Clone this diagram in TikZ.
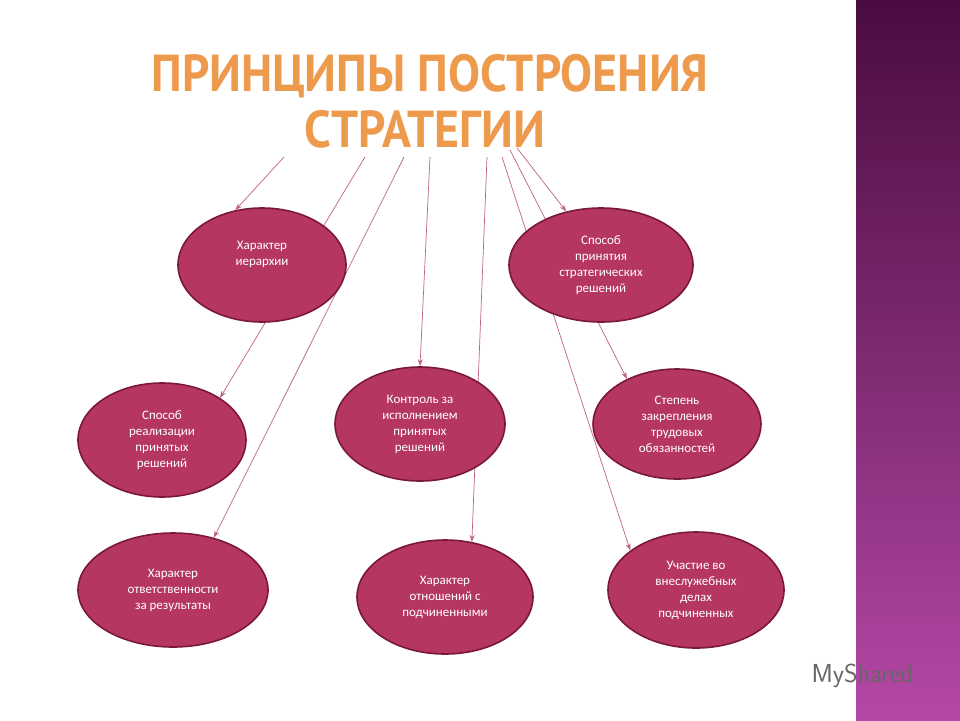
\documentclass[tikz,border=0pt]{standalone}
\usepackage{fontspec}
\setmainfont{Carlito}
\newfontfamily\titlefont{PT Sans}
\usetikzlibrary{arrows.meta,shapes.geometric,backgrounds}
\definecolor{efill}{HTML}{B5375F}
\definecolor{edraw}{HTML}{7A1838}
\definecolor{lcol}{HTML}{C0608A}
\definecolor{ttl}{HTML}{EE9A4C}
\tikzset{
  oval/.style={ellipse, fill=efill, draw=edraw, line width=1.6pt, text=white, align=center, font=\fontsize{13}{16}\selectfont, inner sep=0pt},
  conn/.style={draw=lcol, line width=0.7pt, -{Stealth[length=7pt,width=5pt]}},
  ttlstyle/.style={font=\titlefont\bfseries\fontsize{52}{52}\selectfont, text=ttl, xscale=0.92}
}
\begin{document}
\begin{tikzpicture}[x=1pt,y=-1pt]
\useasboundingbox (0,0) rectangle (960,720);
\node[ttlstyle] (t1) at (430,76) {ПРИНЦИПЫ ПОСТРОЕНИЯ};
\node[ttlstyle] (t2) at (425,129) {СТРАТЕГИИ};
\coordinate (s1) at (284,157);
\coordinate (s2) at (365,157);
\coordinate (s3) at (404,157);
\coordinate (s4) at (430,157);
\coordinate (s5) at (487,157);
\coordinate (s6) at (502,157);
\coordinate (s7) at (510,150);
\coordinate (s8) at (517,148);
\path
 (262,265) node[oval, minimum width=168, minimum height=114] (e1) {Характер\\иерархии\\[8pt]}
 (601,265) node[oval, minimum width=184, minimum height=114] (e2) {Способ\\принятия\\стратегических\\решений}
 (162,440) node[oval, minimum width=168, minimum height=114] (e3) {Способ\\реализации\\принятых\\решений}
 (420,424) node[oval, minimum width=170, minimum height=114] (e4) {Контроль за\\исполнением\\принятых\\решений}
 (677,424) node[oval, minimum width=168, minimum height=110] (e5) {Степень\\закрепления\\трудовых\\обязанностей}
 (173,590) node[oval, minimum width=190, minimum height=114] (e6) {Характер\\ответственности\\за результаты}
 (445,597) node[oval, minimum width=176, minimum height=114] (e7) {Характер\\отношений с\\подчиненными}
 (696,590) node[oval, minimum width=176, minimum height=116] (e8) {Участие во\\внеслужебных\\делах\\подчиненных};
\node[font=\fontsize{26}{26}\selectfont\sffamily, text=gray!80!black, anchor=west] (wm) at (808,676) {MyShared};
\begin{scope}[on background layer]
\fill[white] (0,0) rectangle (960,720);
\shade[top color={rgb,255:red,74;green,12;blue,64}, bottom color={rgb,255:red,180;green,72;blue,165}] (856,0) rectangle (960,720);
\draw[conn] (s1) -- (e1.116);
\draw[conn] (s2) -- (e3.36);
\draw[conn] (s3) -- (e6.52);
\draw[conn] (s4) -- (e4.90);
\draw[conn] (s5) -- (e7.64);
\draw[conn] (s6) -- (e8.149);
\draw[conn] (s7) -- (e5.138);
\draw[conn] (s8) -- (e2.123);
\end{scope}
\end{tikzpicture}
\end{document}
